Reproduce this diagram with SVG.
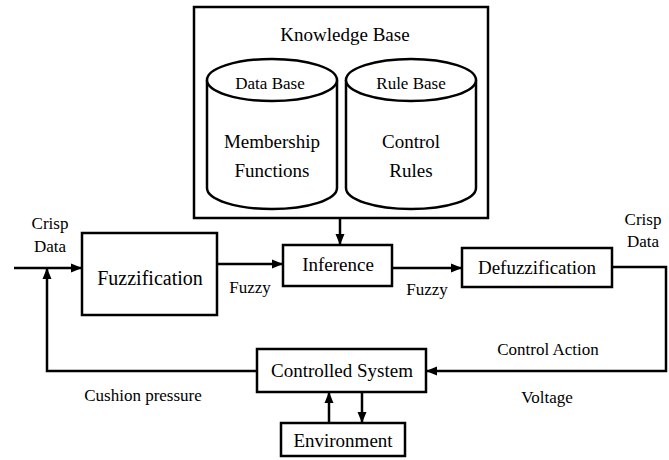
<svg xmlns="http://www.w3.org/2000/svg" width="669" height="460" viewBox="0 0 669 460" font-family="'Liberation Serif', serif">
<style>
.box{fill:#fff;stroke:#000;stroke-width:2.5}
.cyl{fill:#fff;stroke:#000;stroke-width:2.5}
.ln{fill:none;stroke:#000;stroke-width:2.5}
text{font-family:'Liberation Serif', serif;fill:#000;text-anchor:middle}
.t19{font-size:19px}
.t17{font-size:17px}
</style>
<defs>
<marker id="ah" markerUnits="userSpaceOnUse" markerWidth="12" markerHeight="10" refX="11" refY="5" orient="auto">
<path d="M0,0.5 L11,5 L0,9.5 z" fill="#000"/>
</marker>
</defs>
<rect width="669" height="460" fill="#fff"/>
<g id="knowledge-base">
<rect class="box" x="194" y="7" width="294" height="211"/>
<text class="t19" x="345" y="41">Knowledge Base</text>
</g>
<g id="data-base">
<path class="cyl" d="M207,80 L207,188 A65,21 0 0 0 337,188 L337,80"/>
<ellipse class="cyl" cx="272" cy="80" rx="65" ry="21"/>
<text class="t17" x="270" y="89">Data Base</text>
<text class="t19" x="272" y="148">Membership</text>
<text class="t19" x="272" y="177">Functions</text>
</g>
<g id="rule-base">
<path class="cyl" d="M346,80 L346,188 A65,21 0 0 0 476,188 L476,80"/>
<ellipse class="cyl" cx="411" cy="80" rx="65" ry="21"/>
<text class="t17" x="411" y="89">Rule Base</text>
<text class="t19" x="411" y="148">Control</text>
<text class="t19" x="411" y="177">Rules</text>
</g>
<g id="fuzzification">
<rect class="box" x="82" y="233" width="135" height="82"/>
<text style="font-size:20px" x="150" y="285">Fuzzification</text>
</g>
<g id="inference">
<rect class="box" x="283" y="245" width="109" height="41"/>
<text class="t19" x="338" y="271">Inference</text>
</g>
<g id="defuzzification">
<rect class="box" x="462" y="248" width="150" height="39"/>
<text class="t19" x="537" y="274">Defuzzification</text>
</g>
<g id="controlled-system">
<rect class="box" x="257" y="349" width="169" height="43"/>
<text class="t19" x="342" y="377">Controlled System</text>
</g>
<g id="environment">
<rect class="box" x="281" y="423" width="124" height="33"/>
<text class="t19" x="343" y="447">Environment</text>
</g>
<g id="connectors">
<path class="ln" d="M14,268 L82,268" marker-end="url(#ah)"/>
<path class="ln" d="M257,371 L47,371 L47,268" marker-end="url(#ah)"/>
<path class="ln" d="M217,264 L283,264" marker-end="url(#ah)"/>
<path class="ln" d="M340,218 L340,245" marker-end="url(#ah)"/>
<path class="ln" d="M392,268 L462,268" marker-end="url(#ah)"/>
<path class="ln" d="M612,267 L666,267 L666,371 L426,371" marker-end="url(#ah)"/>
<path class="ln" d="M329,423 L329,392" marker-end="url(#ah)"/>
<path class="ln" d="M362,392 L362,423" marker-end="url(#ah)"/>
</g>
<g id="labels">
<text class="t17" x="50" y="229">Crisp</text>
<text class="t17" x="50" y="252">Data</text>
<text class="t17" x="250" y="293">Fuzzy</text>
<text class="t17" x="427" y="295">Fuzzy</text>
<text class="t17" x="643" y="225">Crisp</text>
<text class="t17" x="643" y="247">Data</text>
<text class="t17" x="548" y="355">Control Action</text>
<text class="t17" x="547" y="403">Voltage</text>
<text class="t17" x="143" y="401">Cushion pressure</text>
</g>
</svg>
